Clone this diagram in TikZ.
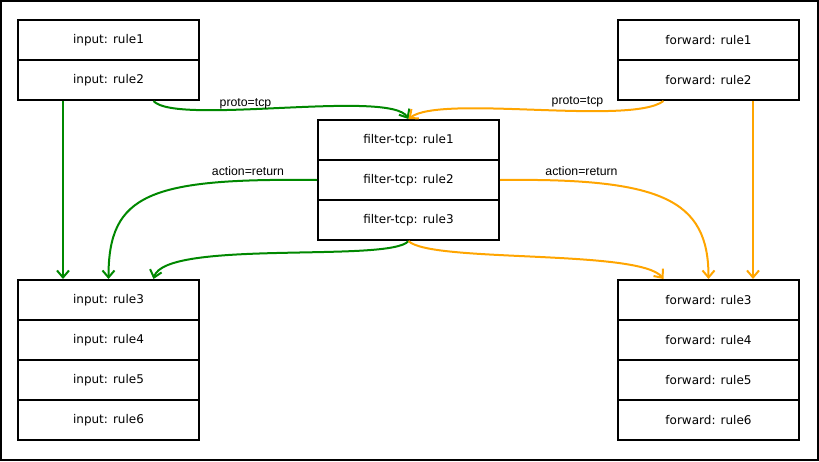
\documentclass[tikz,border=0pt]{standalone}
\usepackage{fontspec}
\setmainfont{DejaVu Sans}
\newfontfamily\labelfont{Liberation Sans}
\usetikzlibrary{arrows.meta}
\definecolor{edgegreen}{RGB}{0,136,0}
\definecolor{edgeorange}{RGB}{255,165,0}
\begin{document}
\begin{tikzpicture}[x=1pt,y=-1pt,
  rulebox/.style={draw, line width=2pt, minimum width=181pt, minimum height=40pt, inner sep=0pt, font=\fontsize{12}{14}\selectfont},
  conn/.style={line width=2pt, -{Straight Barb[length=7pt,width=12pt]}},
  lbl/.style={font=\labelfont\fontsize{12.3}{14}\selectfont, inner sep=1pt}]
\useasboundingbox (0,0) rectangle (819,461);
\draw[line width=2pt] (1,1) rectangle (818,460);
% boxes
\node[rulebox] (in1) at (108.5,40) {input: rule1};
\node[rulebox] (in2) at (108.5,80) {input: rule2};
\node[rulebox] (fw1) at (708.5,40) {forward: rule1};
\node[rulebox] (fw2) at (708.5,80) {forward: rule2};
\node[rulebox] (ft1) at (408.5,140) {filter-tcp: rule1};
\node[rulebox] (ft2) at (408.5,180) {filter-tcp: rule2};
\node[rulebox] (ft3) at (408.5,220) {filter-tcp: rule3};
\node[rulebox] (in3) at (108.5,300) {input: rule3};
\node[rulebox] (in4) at (108.5,340) {input: rule4};
\node[rulebox] (in5) at (108.5,380) {input: rule5};
\node[rulebox] (in6) at (108.5,420) {input: rule6};
\node[rulebox] (fw3) at (708.5,300) {forward: rule3};
\node[rulebox] (fw4) at (708.5,340) {forward: rule4};
\node[rulebox] (fw5) at (708.5,380) {forward: rule5};
\node[rulebox] (fw6) at (708.5,420) {forward: rule6};
% green connectors
\draw[conn,edgegreen] ([xshift=-45.5pt]in2.south) -- ([xshift=-45.5pt]in3.north);
\draw[conn,edgegreen] ([xshift=45pt]in2.south) .. controls +(22,25) and +(-18,-30) .. (ft1.north);
\draw[conn,edgegreen] (ft2.west) .. controls +(-168,-2) and +(0,-85) .. (in3.north);
\draw[conn,edgegreen] (ft3.south) .. controls +(-18,22) and +(11.5,-40) .. ([xshift=45pt]in3.north);
% orange connectors
\draw[conn,edgeorange] ([xshift=44.5pt]fw2.south) -- ([xshift=44.5pt]fw3.north);
\draw[conn,edgeorange] ([xshift=-45pt]fw2.south) .. controls +(-33,25) and +(31.5,-25) .. (ft1.north);
\draw[conn,edgeorange] (ft2.east) .. controls +(161,-2) and +(0,-80) .. (fw3.north);
\draw[conn,edgeorange] (ft3.south) .. controls +(22,22) and +(-23.5,-30) .. ([xshift=-45pt]fw3.north);
% labels
\node[lbl] (l1) at (245.5,104) {proto=tcp};
\node[lbl] (l2) at (577.5,102) {proto=tcp};
\node[lbl] (l3) at (248,171) {action=return};
\node[lbl] (l4) at (581.5,171) {action=return};
\end{tikzpicture}
\end{document}
